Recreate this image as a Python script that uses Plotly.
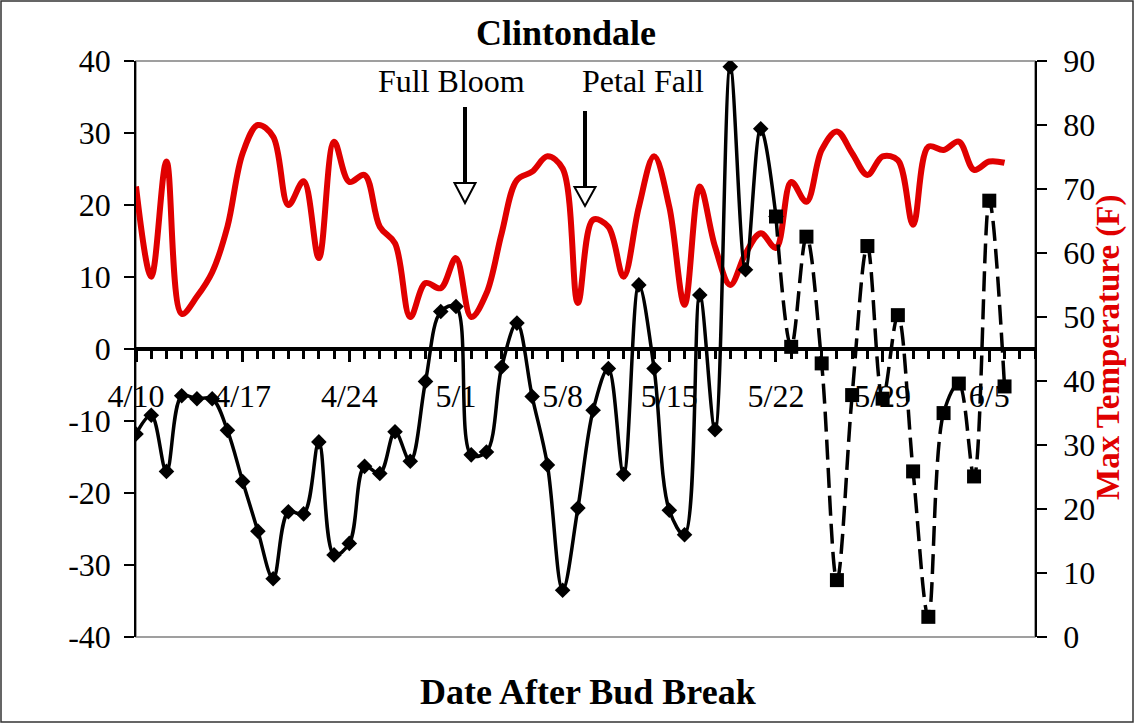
import pandas as pd
import plotly.graph_objects as go

# ---------------- data ----------------
dates = pd.date_range("2009-04-10", "2009-06-06", freq="D")

max_temp = [70.4, 56.3, 74.3, 50.5, 53.2, 57.0, 64.1, 75.6, 80.0, 78.2,
            67.5, 71.2, 59.2, 77.4, 71.1, 72.2, 64.1, 61.5, 50.0, 55.3,
            54.5, 59.2, 50.0, 53.7, 63.1, 71.4, 72.7, 75.1, 73.2, 52.2,
            65.2, 64.1, 56.3, 67.2, 75.1, 67.2, 51.9, 70.4, 61.0, 55.0,
            59.9, 63.1, 60.8, 71.1, 68.0, 76.1, 79.0, 75.6, 72.2, 75.1,
            74.5, 64.4, 76.6, 76.1, 77.4, 73.0, 74.3, 74.1]

# left-axis series, 4/10 - 5/22 (solid, diamonds)
solid_vals = [-11.8, -9.2, -17.0, -6.5, -6.9, -6.9, -11.3, -18.4, -25.3, -31.9,
              -22.6, -22.9, -12.9, -28.6, -27.0, -16.3, -17.3, -11.5, -15.6, -4.5,
              5.2, 5.9, -14.7, -14.3, -2.5, 3.6, -6.6, -16.1, -33.5, -22.1,
              -8.5, -2.7, -17.4, 8.9, -2.7, -22.4, -25.8, 7.5, -11.2, 39.2,
              11.0, 30.6, 18.4]
# left-axis series, 5/22 - 6/6 (dashed, squares)
dash_vals = [18.4, 0.3, 15.6, -2.0, -32.1, -6.4, 14.3, -6.9, 4.7, -17.0,
             -37.2, -8.9, -4.8, -17.7, 20.6, -5.2]

solid_dates = dates[:len(solid_vals)]
dash_dates = dates[len(solid_vals) - 1:]

left_ticks = [-40, -30, -20, -10, 0, 10, 20, 30, 40]
left_labels = [str(v) for v in left_ticks]
right_ticks = [0, 10, 20, 30, 40, 50, 60, 70, 80, 90]

FONT = "Liberation Serif, Times New Roman, serif"
RED = "#e00000"

fig = go.Figure()
fig.add_trace(go.Scatter(
    x=dates, y=max_temp, yaxis="y", mode="lines",
    line=dict(color=RED, width=6, shape="spline", smoothing=1),
    showlegend=False, name="Max Temperature"))
fig.add_trace(go.Scatter(
    x=solid_dates, y=solid_vals, yaxis="y2", mode="lines+markers",
    line=dict(color="black", width=3.5, shape="spline", smoothing=1),
    marker=dict(symbol="diamond", size=12, color="black"),
    showlegend=False))
fig.add_trace(go.Scatter(
    x=dash_dates, y=dash_vals, yaxis="y2", mode="lines+markers",
    line=dict(color="black", width=3.5, shape="spline", smoothing=1, dash="20px,8px"),
    marker=dict(symbol="square", size=14, color="black"),
    showlegend=False))

tickfont = dict(family=FONT, size=32, color="black")

fig.update_layout(
    width=1138, height=724, autosize=False,
    margin=dict(l=136, r=103, t=61, b=87),
    paper_bgcolor="white", plot_bgcolor="white",
    font=dict(family=FONT, color="black"),
    xaxis=dict(
        type="date", range=["2009-04-10", "2009-06-08"],
        anchor="free", position=0.5,
        showline=True, linecolor="black", linewidth=3.5,
        ticks="outside", ticklen=11, tickwidth=3, tickcolor="black",
        tick0="2009-04-10", dtick=7 * 86400000, tickformat="%-m/%-d",
        tickfont=tickfont, ticklabelstandoff=7,
        minor=dict(ticks="outside", dtick=86400000, tick0="2009-04-10",
                   ticklen=8, tickwidth=3, tickcolor="black", showgrid=False),
        showgrid=False, zeroline=False),
    yaxis=dict(
        range=[0, 90], tickvals=right_ticks, side="right", anchor="x",
        showline=True, linecolor="black", linewidth=1.5,
        ticks="outside", ticklen=10, tickwidth=1.5, tickcolor="black",
        tickfont=tickfont, ticklabelstandoff=10, tickprefix="\u00a0\u2009",
        showgrid=False, zeroline=False),
    yaxis2=dict(
        range=[-40, 40], tickvals=left_ticks, ticktext=left_labels,
        overlaying="y", side="left", anchor="x",
        showline=True, linecolor="black", linewidth=1.5,
        ticks="outside", ticklen=10, tickwidth=1.5, tickcolor="black",
        tickfont=tickfont, ticklabelstandoff=7,
        showgrid=False, zeroline=False),
)

def px_x(x):
    return (x - 136) / 899.0

def px_y(y):
    return (637 - y) / 576.0

shapes = [
    # plot area border (gray top/bottom)
    dict(type="rect", xref="paper", yref="paper", x0=0, x1=1, y0=0, y1=1,
         line=dict(color="#808080", width=1.5), layer="below"),
    # outer chart frame
    dict(type="rect", xref="paper", yref="paper",
         x0=px_x(1), x1=px_x(1133), y0=px_y(722), y1=px_y(1),
         line=dict(color="#333333", width=1.5)),
]
for sx, top, head_top, head_bot in [(465, 107, 183, 203), (585, 111, 187, 206)]:
    shapes.append(dict(type="line", xref="paper", yref="paper",
                       x0=px_x(sx), x1=px_x(sx), y0=px_y(top), y1=px_y(head_top),
                       line=dict(color="black", width=4)))
    path = "M {a},{b} L {c},{b} L {d},{e} Z".format(
        a=px_x(sx - 10.5), b=px_y(head_top), c=px_x(sx + 10.5),
        d=px_x(sx), e=px_y(head_bot))
    shapes.append(dict(type="path", xref="paper", yref="paper", path=path,
                       fillcolor="white", line=dict(color="black", width=2)))
fig.update_layout(shapes=shapes)

annotations = [
    dict(text="<b>Clintondale</b>", x=px_x(566), y=px_y(33), xref="paper", yref="paper",
         showarrow=False, xanchor="center", yanchor="middle",
         font=dict(family=FONT, size=36, color="black")),
    dict(text="<b>Date After Bud Break</b>", x=px_x(588), y=px_y(692), xref="paper", yref="paper",
         showarrow=False, xanchor="center", yanchor="middle",
         font=dict(family=FONT, size=36, color="black")),
    dict(text="<b>Max Temperature (F)</b>", x=px_x(1108), y=px_y(347), xref="paper", yref="paper",
         showarrow=False, xanchor="center", yanchor="middle", textangle=-90,
         font=dict(family=FONT, size=33, color=RED)),
    dict(text="Full Bloom", x=px_x(451), y=px_y(81), xref="paper", yref="paper",
         showarrow=False, xanchor="center", yanchor="middle",
         font=dict(family=FONT, size=32, color="black")),
    dict(text="Petal Fall", x=px_x(643), y=px_y(81), xref="paper", yref="paper",
         showarrow=False, xanchor="center", yanchor="middle",
         font=dict(family=FONT, size=32, color="black")),
]
fig.update_layout(annotations=annotations)

fig.write_html("out.html", config={"displayModeBar": False},
               post_script="document.body.style.margin='0';")
